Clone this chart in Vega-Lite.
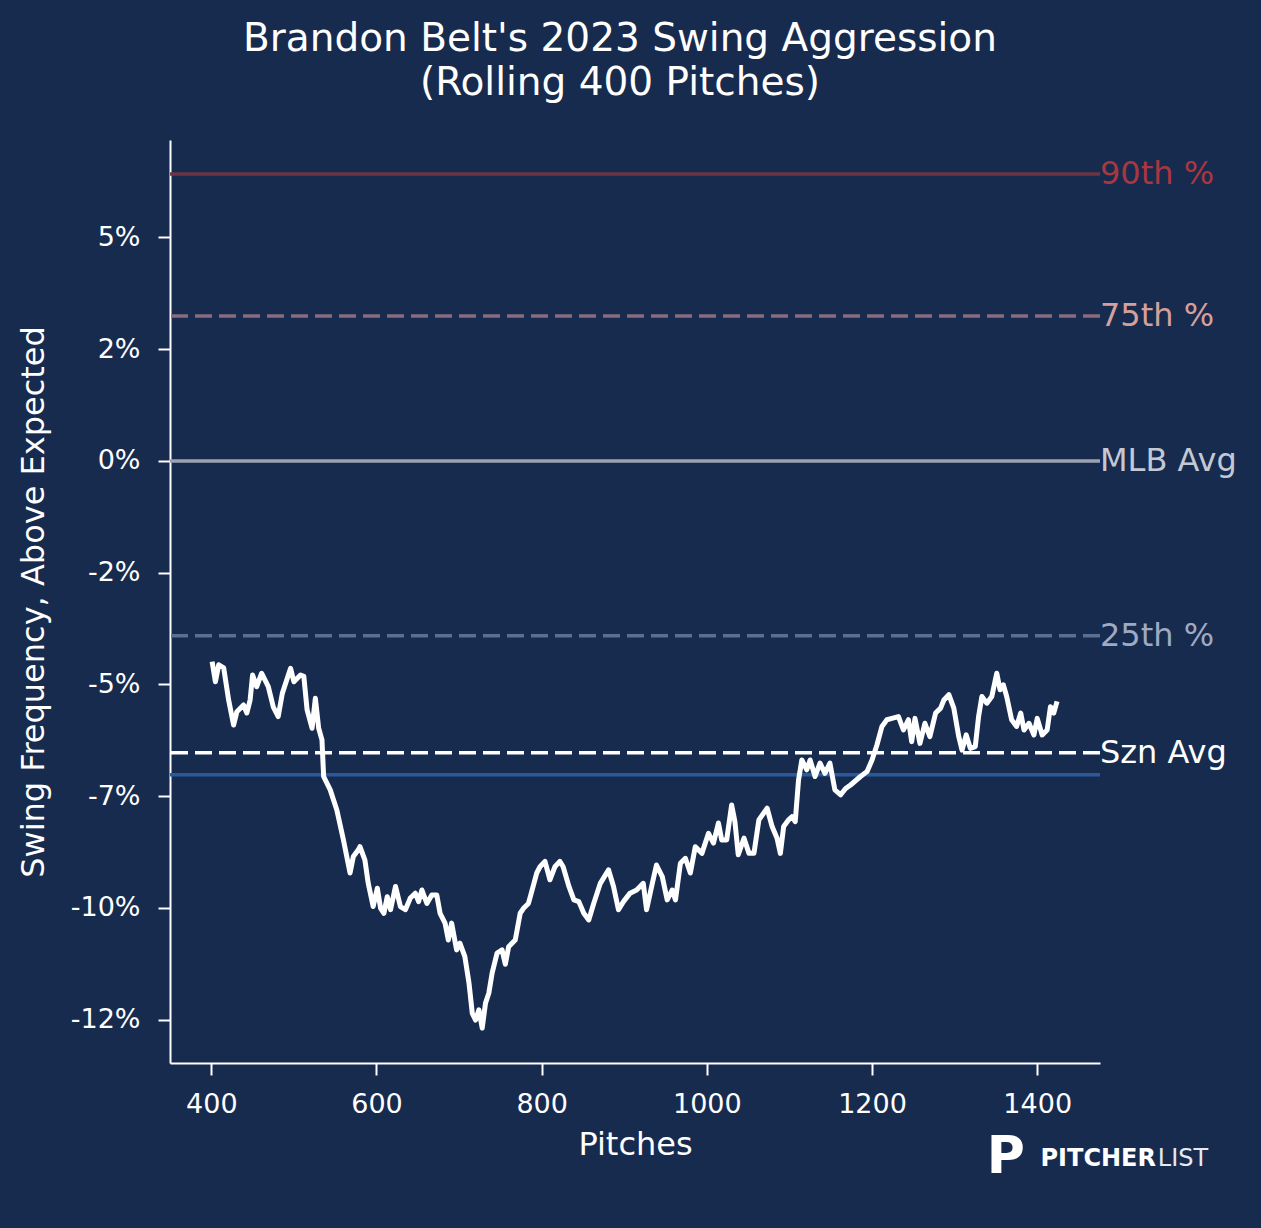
{
  "$schema": "https://vega.github.io/schema/vega-lite/v6.json",
  "description": "Brandon Belt 2023 swing aggression, rolling 400 pitches",
  "width": 930,
  "height": 923,
  "autosize": {"type": "none"},
  "padding": {"left": 170, "top": 140, "right": 161, "bottom": 165},
  "background": "#172B4F",
  "config": {
    "view": {"stroke": null},
    "font": "DejaVu Sans",
    "axis": {
      "grid": false,
      "domainColor": "#FFFFFF",
      "domainWidth": 2,
      "tickColor": "#FFFFFF",
      "tickWidth": 2,
      "tickSize": 12,
      "labelColor": "#FFFFFF",
      "labelFont": "DejaVu Sans",
      "labelFontSize": 27,
      "titleColor": "#FFFFFF",
      "titleFont": "DejaVu Sans",
      "titleFontSize": 32,
      "titleFontWeight": "normal"
    }
  },
  "title": {
    "text": ["Brandon Belt's 2023 Swing Aggression", "(Rolling 400 Pitches)"],
    "color": "#FFFFFF",
    "font": "DejaVu Sans",
    "fontSize": 39,
    "fontWeight": "normal",
    "anchor": "middle",
    "frame": "group",
    "dx": -15,
    "offset": 37,
    "lineHeight": 44
  },
  "datasets": {
    "refs": [
      {"ref": "90th %", "value": 0.0642},
      {"ref": "75th %", "value": 0.0324},
      {"ref": "MLB Avg", "value": 0.0},
      {"ref": "25th %", "value": -0.0391},
      {"ref": "Szn Avg", "value": -0.0653},
      {"ref": "Expected", "value": -0.0702}
    ],
    "rolling": [
      {"pitch": 401, "val": -0.0449}, {"pitch": 405, "val": -0.0494}, {"pitch": 409, "val": -0.0456},
      {"pitch": 415, "val": -0.0463}, {"pitch": 421, "val": -0.0535}, {"pitch": 427, "val": -0.0591},
      {"pitch": 431, "val": -0.0561}, {"pitch": 439, "val": -0.0546}, {"pitch": 443, "val": -0.0564},
      {"pitch": 447, "val": -0.0535}, {"pitch": 450, "val": -0.0479}, {"pitch": 455, "val": -0.0505},
      {"pitch": 461, "val": -0.0475}, {"pitch": 469, "val": -0.0505}, {"pitch": 475, "val": -0.0550},
      {"pitch": 481, "val": -0.0572}, {"pitch": 486, "val": -0.0520}, {"pitch": 496, "val": -0.0464},
      {"pitch": 500, "val": -0.0494}, {"pitch": 508, "val": -0.0479}, {"pitch": 512, "val": -0.0482},
      {"pitch": 516, "val": -0.0557}, {"pitch": 522, "val": -0.0598}, {"pitch": 526, "val": -0.0531},
      {"pitch": 530, "val": -0.0598}, {"pitch": 534, "val": -0.0624}, {"pitch": 536, "val": -0.0706},
      {"pitch": 544, "val": -0.0736}, {"pitch": 552, "val": -0.0781}, {"pitch": 560, "val": -0.0848},
      {"pitch": 568, "val": -0.0922}, {"pitch": 572, "val": -0.0885}, {"pitch": 578, "val": -0.0870},
      {"pitch": 580, "val": -0.0863}, {"pitch": 586, "val": -0.0893}, {"pitch": 590, "val": -0.0945},
      {"pitch": 596, "val": -0.0997}, {"pitch": 601, "val": -0.0956}, {"pitch": 605, "val": -0.1001},
      {"pitch": 609, "val": -0.1012}, {"pitch": 613, "val": -0.0975}, {"pitch": 617, "val": -0.1004},
      {"pitch": 623, "val": -0.0952}, {"pitch": 629, "val": -0.0997}, {"pitch": 635, "val": -0.1004},
      {"pitch": 641, "val": -0.0978}, {"pitch": 647, "val": -0.0967}, {"pitch": 651, "val": -0.0986},
      {"pitch": 655, "val": -0.0960}, {"pitch": 661, "val": -0.0990}, {"pitch": 667, "val": -0.0971},
      {"pitch": 673, "val": -0.0971}, {"pitch": 677, "val": -0.1012}, {"pitch": 683, "val": -0.1034},
      {"pitch": 687, "val": -0.1072}, {"pitch": 691, "val": -0.1034}, {"pitch": 697, "val": -0.1094},
      {"pitch": 701, "val": -0.1079}, {"pitch": 707, "val": -0.1109}, {"pitch": 712, "val": -0.1168},
      {"pitch": 716, "val": -0.1236}, {"pitch": 720, "val": -0.1251}, {"pitch": 724, "val": -0.1228},
      {"pitch": 728, "val": -0.1269}, {"pitch": 732, "val": -0.1213}, {"pitch": 736, "val": -0.1191},
      {"pitch": 740, "val": -0.1146}, {"pitch": 746, "val": -0.1101}, {"pitch": 752, "val": -0.1094},
      {"pitch": 756, "val": -0.1126}, {"pitch": 760, "val": -0.1087}, {"pitch": 768, "val": -0.1072},
      {"pitch": 774, "val": -0.1012}, {"pitch": 778, "val": -0.1001}, {"pitch": 784, "val": -0.0990},
      {"pitch": 788, "val": -0.0963}, {"pitch": 794, "val": -0.0922}, {"pitch": 798, "val": -0.0908},
      {"pitch": 804, "val": -0.0896}, {"pitch": 810, "val": -0.0937}, {"pitch": 816, "val": -0.0908},
      {"pitch": 822, "val": -0.0896}, {"pitch": 826, "val": -0.0908}, {"pitch": 833, "val": -0.0952},
      {"pitch": 839, "val": -0.0982}, {"pitch": 845, "val": -0.0986}, {"pitch": 851, "val": -0.1012},
      {"pitch": 857, "val": -0.1027}, {"pitch": 863, "val": -0.0990}, {"pitch": 871, "val": -0.0945},
      {"pitch": 881, "val": -0.0915}, {"pitch": 887, "val": -0.0952}, {"pitch": 893, "val": -0.1004},
      {"pitch": 899, "val": -0.0986}, {"pitch": 907, "val": -0.0967}, {"pitch": 915, "val": -0.0960},
      {"pitch": 923, "val": -0.0945}, {"pitch": 927, "val": -0.1004}, {"pitch": 934, "val": -0.0945},
      {"pitch": 939, "val": -0.0904}, {"pitch": 946, "val": -0.0930}, {"pitch": 952, "val": -0.0982},
      {"pitch": 958, "val": -0.0960}, {"pitch": 962, "val": -0.0982}, {"pitch": 968, "val": -0.0900},
      {"pitch": 974, "val": -0.0889}, {"pitch": 980, "val": -0.0922}, {"pitch": 986, "val": -0.0863},
      {"pitch": 994, "val": -0.0878}, {"pitch": 1002, "val": -0.0833}, {"pitch": 1008, "val": -0.0855},
      {"pitch": 1014, "val": -0.0810}, {"pitch": 1018, "val": -0.0848}, {"pitch": 1024, "val": -0.0848},
      {"pitch": 1030, "val": -0.0770}, {"pitch": 1034, "val": -0.0807}, {"pitch": 1038, "val": -0.0881},
      {"pitch": 1045, "val": -0.0844}, {"pitch": 1051, "val": -0.0878}, {"pitch": 1057, "val": -0.0878},
      {"pitch": 1063, "val": -0.0803}, {"pitch": 1073, "val": -0.0777}, {"pitch": 1079, "val": -0.0818},
      {"pitch": 1085, "val": -0.0844}, {"pitch": 1089, "val": -0.0878}, {"pitch": 1093, "val": -0.0818},
      {"pitch": 1099, "val": -0.0803}, {"pitch": 1103, "val": -0.0796}, {"pitch": 1107, "val": -0.0807},
      {"pitch": 1111, "val": -0.0714}, {"pitch": 1115, "val": -0.0669}, {"pitch": 1121, "val": -0.0691},
      {"pitch": 1125, "val": -0.0669}, {"pitch": 1131, "val": -0.0706}, {"pitch": 1137, "val": -0.0676},
      {"pitch": 1143, "val": -0.0699}, {"pitch": 1149, "val": -0.0676}, {"pitch": 1155, "val": -0.0736},
      {"pitch": 1162, "val": -0.0747}, {"pitch": 1168, "val": -0.0733}, {"pitch": 1174, "val": -0.0725},
      {"pitch": 1186, "val": -0.0706}, {"pitch": 1194, "val": -0.0695}, {"pitch": 1200, "val": -0.0669},
      {"pitch": 1206, "val": -0.0635}, {"pitch": 1212, "val": -0.0594}, {"pitch": 1218, "val": -0.0579},
      {"pitch": 1224, "val": -0.0576}, {"pitch": 1232, "val": -0.0572}, {"pitch": 1238, "val": -0.0602},
      {"pitch": 1244, "val": -0.0579}, {"pitch": 1248, "val": -0.0628}, {"pitch": 1252, "val": -0.0576},
      {"pitch": 1258, "val": -0.0632}, {"pitch": 1264, "val": -0.0587}, {"pitch": 1270, "val": -0.0617},
      {"pitch": 1277, "val": -0.0564}, {"pitch": 1283, "val": -0.0553}, {"pitch": 1287, "val": -0.0535},
      {"pitch": 1293, "val": -0.0523}, {"pitch": 1299, "val": -0.0553}, {"pitch": 1305, "val": -0.0617},
      {"pitch": 1309, "val": -0.0647}, {"pitch": 1314, "val": -0.0613}, {"pitch": 1319, "val": -0.0643},
      {"pitch": 1325, "val": -0.0639}, {"pitch": 1329, "val": -0.0572}, {"pitch": 1333, "val": -0.0527},
      {"pitch": 1339, "val": -0.0542}, {"pitch": 1345, "val": -0.0527}, {"pitch": 1351, "val": -0.0475},
      {"pitch": 1355, "val": -0.0512}, {"pitch": 1359, "val": -0.0501}, {"pitch": 1363, "val": -0.0527},
      {"pitch": 1369, "val": -0.0579}, {"pitch": 1375, "val": -0.0594}, {"pitch": 1380, "val": -0.0564},
      {"pitch": 1384, "val": -0.0602}, {"pitch": 1390, "val": -0.0587}, {"pitch": 1396, "val": -0.0613},
      {"pitch": 1400, "val": -0.0576}, {"pitch": 1406, "val": -0.0613}, {"pitch": 1412, "val": -0.0602},
      {"pitch": 1416, "val": -0.0550}, {"pitch": 1420, "val": -0.0564}, {"pitch": 1424, "val": -0.0538}
    ]
  },
  "layer": [
    {
      "data": {"name": "refs"},
      "mark": {"type": "rule", "strokeWidth": 3.5},
      "encoding": {
        "y": {
          "field": "value",
          "type": "quantitative",
          "scale": {"domain": [-0.1347, 0.0718], "nice": false, "zero": false},
          "axis": {
            "title": "Swing Frequency, Above Expected",
            "values": [-0.125, -0.1, -0.075, -0.05, -0.025, 0, 0.025, 0.05],
            "labelExpr": "(datum.value < 0 ? '-' : '') + floor(abs(datum.value * 100) + 0.0001) + '%'",
            "labelPadding": 18,
            "titlePadding": 20
          }
        },
        "stroke": {
          "field": "ref",
          "type": "nominal",
          "legend": null,
          "scale": {
            "domain": ["90th %", "75th %", "MLB Avg", "25th %", "Szn Avg", "Expected"],
            "range": ["#6F3444", "#8C6C7C", "#9BA3B3", "#5A6F93", "#FFFFFF", "#2A5A9C"]
          }
        },
        "strokeDash": {
          "field": "ref",
          "type": "nominal",
          "legend": null,
          "scale": {
            "domain": ["90th %", "75th %", "MLB Avg", "25th %", "Szn Avg", "Expected"],
            "range": [[1, 0], [17, 7], [1, 0], [17, 7], [17, 7], [1, 0]]
          }
        }
      }
    },
    {
      "data": {"name": "refs"},
      "transform": [{"filter": "datum.ref != 'Expected'"}],
      "mark": {"type": "text", "align": "left", "baseline": "middle", "fontSize": 32, "font": "DejaVu Sans"},
      "encoding": {
        "x": {"datum": 1476, "type": "quantitative"},
        "y": {"field": "value", "type": "quantitative"},
        "text": {"field": "ref"},
        "fill": {
          "field": "ref",
          "type": "nominal",
          "legend": null,
          "scale": {
            "domain": ["90th %", "75th %", "MLB Avg", "25th %", "Szn Avg"],
            "range": ["#A8373F", "#D4A09E", "#C3C9D4", "#9CAAC6", "#FFFFFF"]
          }
        }
      }
    },
    {
      "data": {"name": "rolling"},
      "mark": {"type": "line", "color": "#FFFFFF", "strokeWidth": 5, "strokeJoin": "round"},
      "encoding": {
        "x": {
          "field": "pitch",
          "type": "quantitative",
          "scale": {"domain": [350, 1476], "nice": false, "zero": false},
          "axis": {
            "title": "Pitches",
            "format": "d",
            "values": [400, 600, 800, 1000, 1200, 1400],
            "labelPadding": 16,
            "titlePadding": 12
          }
        },
        "y": {"field": "val", "type": "quantitative"}
      }
    },
    {
      "data": {"values": [{}]},
      "mark": {"type": "text", "text": "P", "align": "left", "baseline": "middle", "fontSize": 52, "fontWeight": "bold", "font": "DejaVu Sans", "color": "#FFFFFF"},
      "encoding": {
        "x": {"datum": 1339, "type": "quantitative"},
        "y": {"datum": -0.1557, "type": "quantitative"}
      }
    },
    {
      "data": {"values": [{}]},
      "mark": {"type": "text", "text": "PITCHER", "align": "left", "baseline": "middle", "fontSize": 24, "fontWeight": "bold", "font": "DejaVu Sans", "color": "#FFFFFF"},
      "encoding": {
        "x": {"datum": 1404, "type": "quantitative"},
        "y": {"datum": -0.1562, "type": "quantitative"}
      }
    },
    {
      "data": {"values": [{}]},
      "mark": {"type": "text", "text": "LIST", "align": "left", "baseline": "middle", "fontSize": 24, "font": "DejaVu Sans", "color": "#E6E9EF"},
      "encoding": {
        "x": {"datum": 1546, "type": "quantitative"},
        "y": {"datum": -0.1562, "type": "quantitative"}
      }
    }
  ]
}
